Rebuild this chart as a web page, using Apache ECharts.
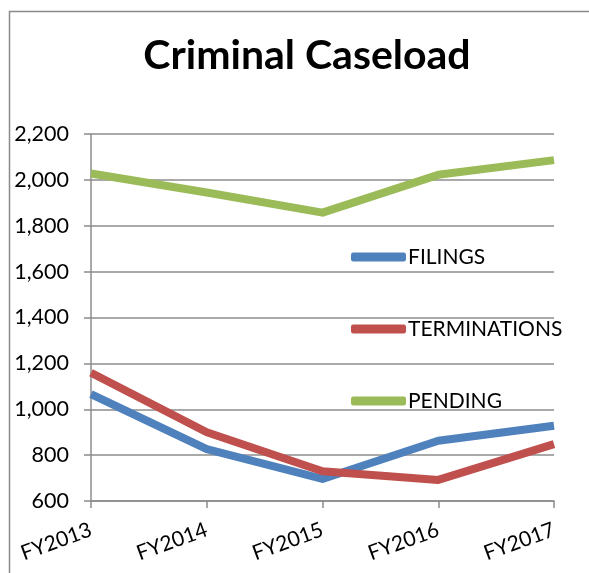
<!DOCTYPE html>
<html>
<head>
<meta charset="utf-8">
<script src="https://cdn.jsdelivr.net/npm/echarts@6/dist/echarts.min.js"></script>
<style>
html,body{margin:0;padding:0;background:#fff;}
#chart{width:589px;height:573px;}
</style>
</head>
<body>
<div id="chart"></div>
<script>
var categories = ['FY2013', 'FY2014', 'FY2015', 'FY2016', 'FY2017'];
var filings = [1066, 826, 696, 863, 928];
var terminations = [1159, 900, 730, 692, 848];
var pending = [2028, 1945, 1857, 2022, 2086];
var yTicks = { min: 600, max: 2200, interval: 200 };

var chart = echarts.init(document.getElementById('chart'), null, { renderer: 'canvas' });
var font = 'Lato';
function mk(name, data, color) {
  return {
    name: name, type: 'line', data: data, showSymbol: false, symbol: 'none',
    lineStyle: { color: color, width: 8, join: 'round' },
    itemStyle: { color: color },
    emphasis: { disabled: true }
  };
}
chart.setOption({
  animation: false,
  backgroundColor: '#fff',
  graphic: [{
    type: 'rect', left: 7, top: 9,
    shape: { width: 620, height: 600 },
    style: { fill: 'none', stroke: '#8a8a8a', lineWidth: 1.5 }
  }],
  title: {
    text: 'Criminal Caseload', left: 302, top: 30, textAlign: 'center',
    textStyle: { fontFamily: font, fontWeight: 'bold', fontSize: 41, color: '#000' }
  },
  legend: {
    orient: 'vertical', left: 346, top: 241, itemGap: 50,
    itemWidth: 55, itemHeight: 9, icon: 'roundRect',
    textStyle: { fontFamily: font, fontSize: 21, color: '#000', lineHeight: 22, padding: [0, 0, 0, -3] },
    data: ['FILINGS', 'TERMINATIONS', 'PENDING']
  },
  grid: { left: 91, right: 35, top: 134, bottom: 72, containLabel: false },
  xAxis: {
    type: 'category', data: categories, boundaryGap: false,
    axisLine: { show: true, lineStyle: { color: '#8c8c8c', width: 1.5 } },
    axisTick: { show: true, alignWithLabel: true, length: 7, lineStyle: { color: '#8c8c8c', width: 1.5 } },
    axisLabel: { rotate: 20, margin: 28, fontFamily: font, fontSize: 21, color: '#000' },
    splitLine: { show: false }
  },
  yAxis: {
    type: 'value', min: yTicks.min, max: yTicks.max, interval: yTicks.interval,
    axisLine: { show: true, lineStyle: { color: '#8c8c8c', width: 1.5 } },
    axisTick: { show: true, length: 7, lineStyle: { color: '#8c8c8c', width: 1.5 } },
    axisLabel: { margin: 22, fontFamily: font, fontSize: 21.5, color: '#000',
      formatter: function (v) { return v.toLocaleString('en-US'); } },
    splitLine: { show: true, lineStyle: { color: '#8c8c8c', width: 1.5 } }
  },
  series: [
    mk('FILINGS', filings, '#4F81BD'),
    mk('TERMINATIONS', terminations, '#C0504D'),
    mk('PENDING', pending, '#9BBB59')
  ]
});
</script>
</body>
</html>
